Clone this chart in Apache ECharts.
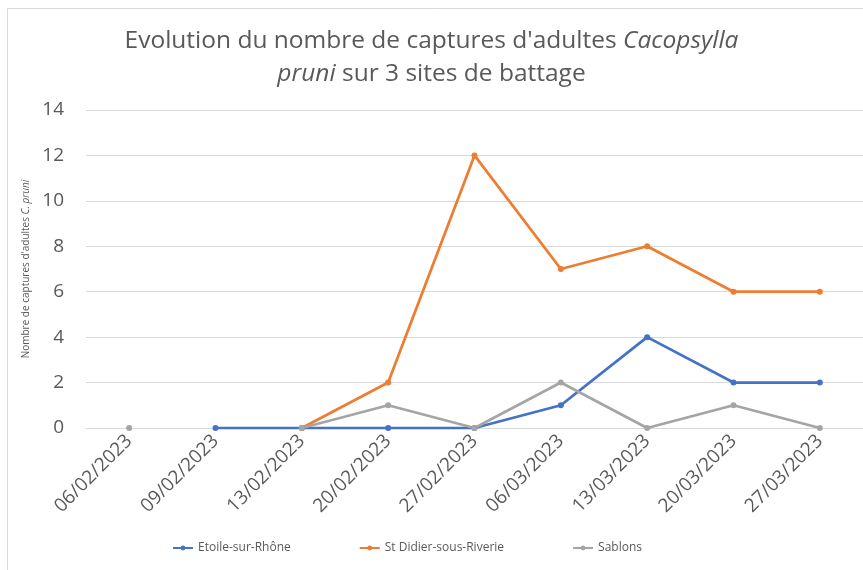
<!DOCTYPE html>
<html>
<head>
<meta charset="utf-8">
<script src="https://cdn.jsdelivr.net/npm/echarts@6/dist/echarts.min.js"></script>
<style>
    html, body { margin: 0; padding: 0; background: #fff; }
    #chart { width: 863px; height: 570px; }
</style>
</head>
<body>
<div id="chart"></div>
<script>
// dates of the samplings
var dates = ['06/02/2023', '09/02/2023', '13/02/2023', '20/02/2023', '27/02/2023',
    '06/03/2023', '13/03/2023', '20/03/2023', '27/03/2023'];

var etoile = [null, 0, 0, 0, 0, 1, 4, 2, 2];
var stDidier = [null, null, 0, 2, 12, 7, 8, 6, 6];
var sablons = [0, null, 0, 1, 0, 2, 0, 1, 0];

var yTicks = { min: 0, max: 14, interval: 2 };

var makeSeries = function(name, data, color) {
    return {
        name: name,
        type: 'line',
        data: data,
        connectNulls: false,
        symbol: 'circle',
        symbolSize: 6,
        lineStyle: { width: 2.75, color: color },
        itemStyle: { color: color },
        emphasis: { disabled: true }
    };
};

var myChart = echarts.init(document.getElementById('chart'));

var option = {
    animation: false,
    textStyle: { fontFamily: 'Open Sans' },
    graphic: [{
        type: 'rect',
        shape: { x: 7.5, y: 8.5, width: 900, height: 600 },
        style: { fill: 'none', stroke: '#d9d9d9', lineWidth: 1 },
        silent: true
    }],
    title: {
        text: "Evolution du nombre de captures d'adultes {i|Cacopsylla}\n{i|pruni} sur 3 sites de battage",
        left: 'center',
        top: 20,
        textStyle: {
            fontSize: 24.5,
            fontWeight: 'normal',
            color: '#595959',
            lineHeight: 33,
            rich: {
                i: { fontSize: 24.5, fontStyle: 'italic', color: '#595959', lineHeight: 33 }
            }
        }
    },
    legend: {
        bottom: 11,
        left: 167,
        itemGap: 68,
        itemWidth: 20,
        itemHeight: 6,
        textStyle: { fontSize: 12, color: '#595959' },
        data: ['Etoile-sur-Rhône', 'St Didier-sous-Riverie', 'Sablons']
    },
    grid: { left: 86, right: 0, top: 110, bottom: 142 },
    xAxis: {
        type: 'category',
        data: dates,
        boundaryGap: true,
        axisLine: { lineStyle: { color: '#d9d9d9' } },
        axisTick: { show: false },
        axisLabel: { rotate: 45, fontSize: 19, color: '#595959', margin: 10, interval: 0 }
    },
    yAxis: {
        type: 'value',
        min: yTicks.min,
        max: yTicks.max,
        interval: yTicks.interval,
        name: "Nombre de captures d'adultes {i|C. pruni}",
        nameLocation: 'middle',
        nameGap: 55,
        nameMoveOverlap: false,
        nameTextStyle: {
            fontSize: 10,
            color: '#595959',
            rich: { i: { fontSize: 10, fontStyle: 'italic', color: '#595959' } }
        },
        axisLine: { show: false },
        axisTick: { show: false },
        axisLabel: { fontSize: 19, color: '#595959', margin: 22 },
        splitLine: { lineStyle: { color: '#d9d9d9', width: 1 } }
    },
    series: [
        makeSeries('Etoile-sur-Rhône', etoile, '#4472C4'),
        makeSeries('St Didier-sous-Riverie', stDidier, '#ED7D31'),
        makeSeries('Sablons', sablons, '#A5A5A5')
    ]
};

myChart.setOption(option);
</script>
</body>
</html>
